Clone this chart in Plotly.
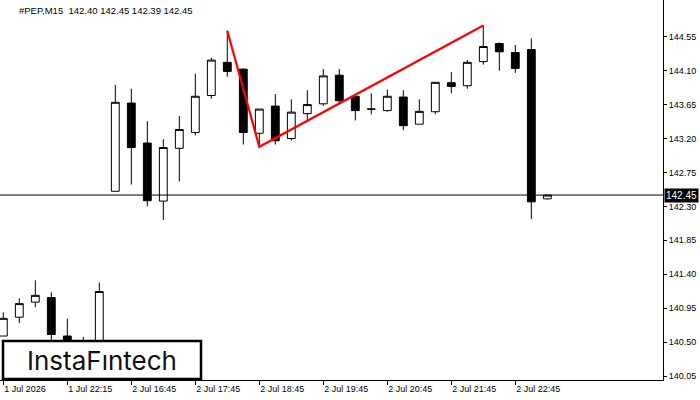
import plotly.graph_objects as go

# ---- data (M15 candles, index = bar number) ----
bar_index = list(range(35))
opens = [140.58, 140.83, 141.03, 141.09, 140.58, 140.45, 140.40, 142.50, 143.67, 143.14,
         142.37, 143.07, 143.28, 143.77, 144.21, 144.12, 143.27, 143.63, 143.20, 143.53,
         143.66, 144.04, 143.76, 143.59, 143.57, 143.75, 143.39, 143.555, 143.94, 143.90,
         144.22, 144.46, 144.34, 144.38, 142.40]
highs = [140.895, 141.08, 141.32, 141.16, 140.81, 140.57, 141.29, 143.91, 143.86, 143.43,
         143.19, 143.50, 144.06, 144.27, 144.63, 144.13, 143.59, 143.79, 143.72, 143.84,
         144.12, 144.12, 143.77, 143.80, 143.85, 143.84, 143.72, 143.945, 144.08, 144.24,
         144.70, 144.475, 144.44, 144.53, 142.45]
lows = [140.58, 140.75, 140.96, 140.42, 140.38, 140.30, 140.35, 142.50, 142.59, 142.30,
        142.12, 142.63, 143.24, 143.73, 144.02, 143.12, 143.08, 143.12, 143.17, 143.445,
        143.635, 143.67, 143.44, 143.52, 143.555, 143.31, 143.39, 143.52, 143.80, 143.86,
        144.18, 144.10, 144.07, 142.13, 142.39]
closes = [140.815, 141.01, 141.12, 140.60, 140.48, 140.40, 141.17, 143.68, 143.08, 142.375,
          143.08, 143.32, 143.76, 144.24, 144.09, 143.28, 143.59, 143.17, 143.55, 143.65,
          144.03, 143.70, 143.57, 143.59, 143.76, 143.37, 143.56, 143.945, 143.89, 144.21,
          144.42, 144.35, 144.13, 142.36, 142.45]

x_tick_index = [0, 4, 8, 12, 16, 20, 24, 28, 32]
x_tick_labels = ["1 Jul 2026", "1 Jul 22:15", "2 Jul 16:45", "2 Jul 17:45", "2 Jul 18:45",
                 "2 Jul 19:45", "2 Jul 20:45", "2 Jul 21:45", "2 Jul 22:45"]
y_tick_values = [140.05, 140.50, 140.95, 141.40, 141.85, 142.30, 142.75, 143.20, 143.65, 144.10, 144.55]

pattern_x = [14, 16, 30]
pattern_y = [144.63, 143.09, 144.70]

current_price = 142.45
title_text = "#PEP,M15  142.40 142.45 142.39 142.45"
logo_text = "InstaFıntech"

# ---- figure ----
W, H = 700, 400
L, R, T, B = 0, 37, 0, 20
PW, PH = W - L - R, H - T - B

def px_x(p):
    return p / PW

def px_y(p):
    return 1 - p / PH

fig = go.Figure()
fig.add_trace(go.Candlestick(
    x=bar_index, open=opens, high=highs, low=lows, close=closes,
    increasing=dict(fillcolor="white", line=dict(color="black", width=1)),
    decreasing=dict(fillcolor="black", line=dict(color="black", width=1)),
    whiskerwidth=0, showlegend=False, hoverinfo="skip",
))
fig.add_trace(go.Scatter(
    x=pattern_x, y=pattern_y, mode="lines",
    line=dict(color="#ff0000", width=2.2), showlegend=False, hoverinfo="skip",
))

font = dict(family="Liberation Sans, Arial, sans-serif", size=9, color="black")

fig.add_shape(type="line", xref="paper", x0=0, x1=1, yref="y", y0=current_price, y1=current_price,
              line=dict(color="black", width=1), layer="above")
fig.add_annotation(xref="paper", x=1, yref="y", y=current_price, text=f"{current_price:.2f}",
                   showarrow=False, xanchor="left", yanchor="middle", xshift=1,
                   bgcolor="black", font=dict(family=font["family"], size=10, color="white"),
                   borderpad=1)

fig.add_annotation(xref="paper", x=px_x(17), yref="paper", y=px_y(11), text=title_text,
                   showarrow=False, xanchor="left", yanchor="middle",
                   font=dict(family=font["family"], size=9.5, color="black"))

# logo box
fig.add_shape(type="rect", xref="paper", yref="paper",
              x0=px_x(3), x1=px_x(201), y0=px_y(379), y1=px_y(341),
              fillcolor="white", line=dict(color="black", width=2.5), layer="above")
fig.add_annotation(xref="paper", x=px_x(102), yref="paper", y=px_y(360), text=logo_text,
                   showarrow=False, xanchor="center", yanchor="middle",
                   font=dict(family="Inter, Lato, sans-serif", size=26, color="#111111"))

fig.update_layout(
    width=W, height=H, margin=dict(l=L, r=R, t=T, b=B),
    paper_bgcolor="white", plot_bgcolor="white",
    xaxis=dict(range=[-0.206, 41.23], rangeslider=dict(visible=False),
               tickmode="array", tickvals=x_tick_index, ticktext=x_tick_labels,
               ticks="outside", ticklen=4, tickcolor="black",
               ticklabelposition="outside right",
               showgrid=False, zeroline=False, showline=True, linecolor="black", linewidth=1,
               tickfont=font),
    yaxis=dict(range=[139.997, 145.037], side="right",
               tickmode="array", tickvals=y_tick_values,
               ticktext=[f"{v:.2f}" for v in y_tick_values],
               ticks="outside", ticklen=3, tickcolor="black",
               showgrid=False, zeroline=False, showline=True, linecolor="black", linewidth=1,
               tickfont=font),
)

fig.write_html("out.html")
